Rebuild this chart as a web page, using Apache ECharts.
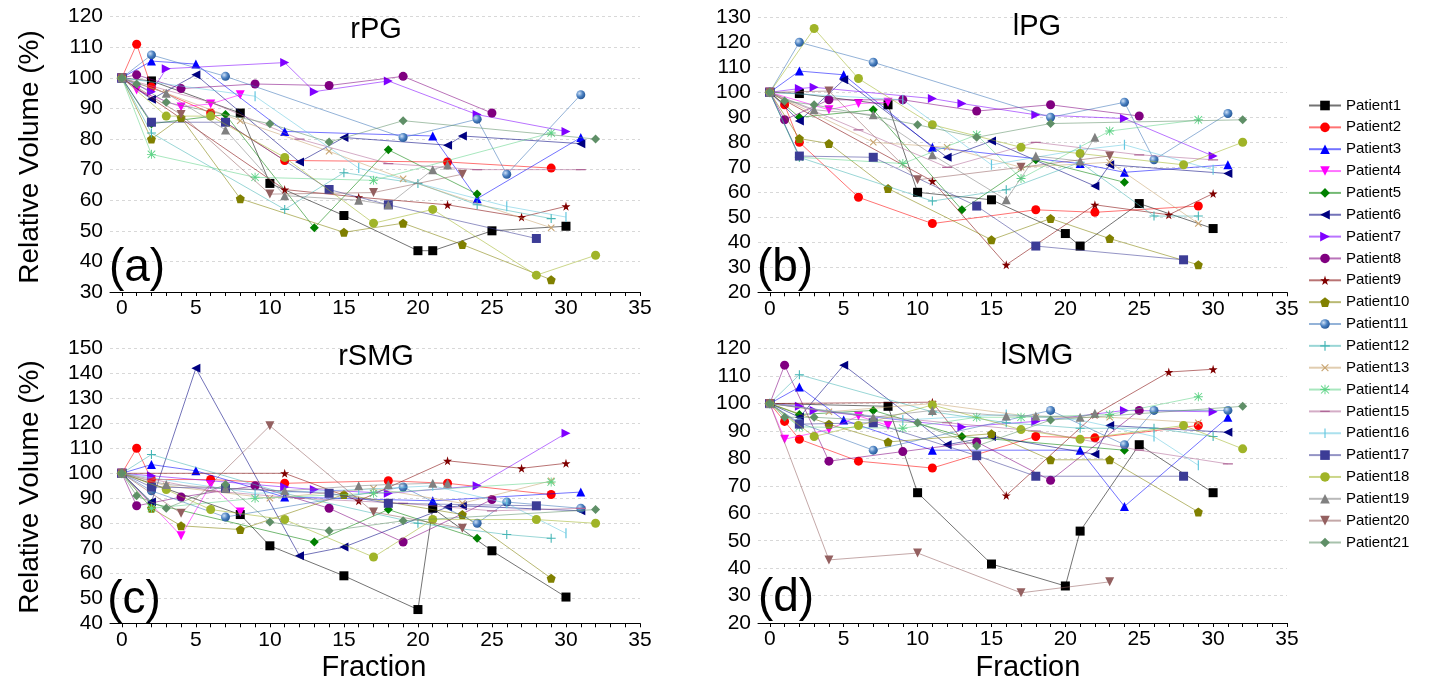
<!DOCTYPE html>
<html>
<head>
<meta charset="utf-8">
<script src="https://cdn.jsdelivr.net/npm/echarts@6/dist/echarts.min.js"></script>
<style>
html,body{margin:0;padding:0;background:#fff}
#main{width:1437px;height:688px}
</style>
</head>
<body>
<div id="main"></div>
<script>
var patients = ['Patient1','Patient2','Patient3','Patient4','Patient5','Patient6','Patient7',
  'Patient8','Patient9','Patient10','Patient11','Patient12','Patient13','Patient14',
  'Patient15','Patient16','Patient17','Patient18','Patient19','Patient20','Patient21'];

var xLabels = [0,5,10,15,20,25,30,35];
var xTicks = [0,1,2,3,4,5,6,7,8,9,10,11,12,13,14,15,16,17,18,19,20,21,22,23,24,25,26,27,28,29,30,31,32,33,34,35];

// [fraction, relative volume %] per patient
var rPG = [
  [[0,100],[2,99],[8,88.5],[10,65.5],[15,55],[20,43.5],[21,43.5],[25,50],[30,51.5]],
  [[0,100],[1,111],[2,97],[6,88.5],[11,73],[22,72.5],[29,70.5]],
  [[0,100],[2,105.5],[5,104.5],[11,82.5],[21,81],[24,60.5],[31,80.5]],
  [[0,100],[1,96],[4,90.5],[6,91.5],[8,94.5]],
  [[0,100],[2,85],[7,88],[13,51],[18,76.5],[24,62]],
  [[0,100],[2,93],[5,101],[12,72.5],[15,80.5],[22,78],[23,81],[31,78.5]],
  [[0,100],[2,95.5],[3,103],[11,105],[13,95.5],[18,99],[24,88],[30,82.5]],
  [[0,100],[1,101],[4,96.5],[9,98],[14,97.5],[19,100.5],[25,88.5]],
  [[0,100],[11,63.5],[16,61],[22,58.5],[27,54.5],[30,58]],
  [[0,100],[2,80],[4,87],[8,60.5],[15,49.5],[19,52.5],[23,45.5],[29,34]],
  [[0,100],[2,107.5],[7,100.5],[19,80.5],[24,86.5],[26,68.5],[31,94.5]],
  [[0,100],[2,82],[11,57],[15,69],[20,65.5],[24,58.5],[29,54]],
  [[0,100],[3,95],[8,86],[14,76],[19,67],[29,51]],
  [[0,100],[2,75],[9,67.5],[17,66.5],[29,82]],
  [[0,100],[6,92],[12,80],[18,72],[24,70],[31,70]],
  [[0,100],[9,94],[16,70.5],[26,58],[30,54.5]],
  [[0,100],[2,85.5],[7,85.5],[14,63.5],[18,58.5],[28,47.5]],
  [[0,100],[3,87.5],[6,87.5],[11,74],[17,52.5],[21,57],[28,35.5],[32,42]],
  [[0,100],[3,95],[7,83],[11,61.5],[16,60],[18,58.5],[21,70],[22,71.5]],
  [[0,100],[4,88],[10,62],[17,62.5],[23,68.5]],
  [[0,100],[1,98],[3,92],[10,85],[14,79],[19,86],[32,80]]
];

var lPG = [
  [[0,100],[2,99.5],[8,95],[10,60],[15,57],[20,43.5],[21,38.5],[25,55.5],[30,45.5]],
  [[0,100],[1,95],[2,80],[6,58],[11,47.5],[18,53],[22,52],[29,54.5]],
  [[0,100],[2,108.5],[5,107],[11,78],[21,71.5],[24,68],[31,71]],
  [[0,100],[4,93],[6,95.5],[8,96]],
  [[0,100],[2,90],[7,93],[13,53],[18,73],[24,64]],
  [[0,100],[2,88.5],[5,105],[12,74],[15,80.5],[22,62.5],[23,71],[31,67.5]],
  [[0,100],[2,101.5],[3,102],[11,97.5],[13,95.5],[18,91],[24,89.5],[30,74.5]],
  [[0,100],[1,89],[4,97],[9,97],[14,92.5],[19,95],[25,90.5]],
  [[0,100],[11,64.5],[16,31],[22,55],[27,51],[30,59.5]],
  [[0,100],[2,81.5],[4,79.5],[8,61.5],[15,41],[19,49.5],[23,41.5],[29,31]],
  [[0,100],[2,120],[7,112],[19,90],[24,96],[26,73],[31,91.5]],
  [[0,100],[2,74],[11,56.5],[16,61],[21,72],[26,50.5],[29,50.5]],
  [[0,100],[7,80],[12,78],[17,70],[23,72],[29,47.5]],
  [[0,100],[2,74],[9,71.5],[14,83],[17,65.5],[23,84.5],[29,89]],
  [[0,100],[6,85],[12,70],[18,80],[25,75],[30,73]],
  [[0,100],[9,97],[15,71],[21,77],[24,79],[30,69]],
  [[0,100],[2,74.5],[7,74],[14,54.5],[18,38.5],[28,33]],
  [[0,100],[3,125.5],[6,105.5],[11,87],[17,78],[21,75.5],[28,71],[32,80]],
  [[0,100],[3,93],[7,91],[11,75],[16,57],[18,74.5],[21,72.5],[22,82]],
  [[0,100],[4,100.5],[10,65],[17,70],[23,74.5]],
  [[0,100],[1,96.5],[3,95],[10,87],[14,82],[19,87.5],[32,89]]
];

var rSMG = [
  [[0,100],[8,83.5],[10,71],[15,59],[20,45.5],[21,86],[25,69],[30,50.5]],
  [[0,100],[1,110],[2,97.5],[6,97.5],[11,96],[18,97],[22,96],[29,91.5]],
  [[0,100],[2,103.5],[5,101],[11,90.5],[21,89],[31,92.5]],
  [[0,100],[4,75],[6,95.5],[8,84.5]],
  [[0,100],[2,88],[13,72.5],[18,85.5],[24,74]],
  [[0,100],[2,88.5],[5,142],[12,67],[15,70.5],[22,86.5],[23,87],[31,85]],
  [[0,100],[2,99],[11,94.5],[13,93.5],[18,92],[24,95],[30,116]],
  [[0,100],[1,87],[4,90.5],[9,95],[14,86],[19,72.5],[25,89.5]],
  [[0,100],[11,100],[16,89],[22,105],[27,102],[30,104]],
  [[0,100],[2,86],[4,79],[8,77.5],[15,91.5],[23,83.5],[29,58]],
  [[0,100],[2,93],[7,82.5],[19,94.5],[24,80],[26,88.5],[31,86]],
  [[0,100],[2,107.5],[11,92],[20,80],[26,75.5],[29,74]],
  [[0,100],[3,95],[10,90],[17,94],[23,88],[29,97]],
  [[0,100],[2,86],[9,90],[17,92],[29,96.5]],
  [[0,100],[6,93],[12,90],[19,88],[25,85],[31,86]],
  [[0,100],[9,92],[16,93.5],[21,95],[26,88],[30,76]],
  [[0,100],[2,94.5],[7,94],[14,92],[18,88],[28,87]],
  [[0,100],[3,93.5],[6,85.5],[11,81.5],[17,66.5],[21,81.5],[28,81.5],[32,80]],
  [[0,100],[3,95.5],[7,94],[11,93],[16,95],[18,95.5],[21,96],[22,96]],
  [[0,100],[4,84],[10,119],[17,84.5],[23,78]],
  [[0,100],[1,91],[3,86],[7,95.5],[10,80.5],[14,77],[19,81],[32,85.5]]
];

var lSMG = [
  [[0,100],[8,99],[10,67.5],[15,41.5],[20,33.5],[21,53.5],[25,85],[30,67.5]],
  [[0,100],[1,93.5],[2,87],[6,79],[11,76.5],[18,88],[22,87.5],[29,92]],
  [[0,100],[2,106],[5,94],[11,83],[21,83],[24,62.5],[31,95]],
  [[0,100],[1,87],[4,90.5],[6,95.5],[8,92]],
  [[0,100],[2,96],[7,97.5],[13,88],[24,83]],
  [[0,100],[2,95],[5,114],[12,85],[15,88],[22,81.5],[23,92],[31,89.5]],
  [[0,100],[2,99],[3,97.5],[13,91.5],[18,93.5],[24,97.5],[30,97]],
  [[0,100],[1,114],[4,79],[9,82.5],[14,86],[19,72],[25,97.5]],
  [[0,100],[11,100.5],[16,66.5],[22,96],[27,111.5],[30,112.5]],
  [[0,100],[4,92.5],[8,86],[15,89],[19,79.5],[23,79.5],[29,60.5]],
  [[0,100],[2,93],[7,83],[19,97.5],[24,85],[26,97.5],[31,97.5]],
  [[0,100],[2,110.5],[11,97],[16,93],[21,91],[26,91],[30,88]],
  [[0,100],[4,97],[11,100],[18,95],[23,95],[29,93]],
  [[0,100],[2,91.5],[9,91],[14,95],[17,95],[23,96],[29,102.5]],
  [[0,100],[6,96],[12,93],[18,90],[25,83],[31,78]],
  [[0,100],[9,94],[16,96],[21,94],[26,88],[29,77.5]],
  [[0,100],[2,92.5],[7,93],[14,81],[18,73.5],[28,73.5]],
  [[0,100],[3,88],[6,92],[11,99.5],[17,90.5],[21,87],[28,92],[32,83.5]],
  [[0,100],[7,95],[11,97.5],[16,95.5],[18,95.5],[21,95],[22,96.5]],
  [[0,100],[4,43],[10,45.5],[17,31],[23,35]],
  [[0,100],[1,95],[3,95],[10,93],[14,84.5],[19,94],[32,99]]
];

var panelData = [rPG, lPG, rSMG, lSMG];
var yRanges = [[30,120],[20,130],[40,150],[20,120]];

// styles
var FONT = 'Liberation Sans, Arial, sans-serif';
var colors = ['#000000','#ff0000','#0000ff','#ff00ff','#008000','#000080','#8000ff','#800080',
  '#800000','#808000','#3d74b8','#45b5b5','#c8a470','#60d488','#b06898','#66c8e0','#3c3c96',
  '#a0b428','#808080','#946060','#5f8f67'];
var STAR = 'path://M50,0 L61,35 L98,35 L68,57 L79,91 L50,70 L21,91 L32,57 L2,35 L39,35 Z';
var PENT = 'path://M50,0 L98,36 L80,95 L20,95 L2,36 Z';
var PLUS = 'path://M44,0H56V44H100V56H56V100H44V56H0V44H44Z';
var ASTER = 'path://M45,0H55V100H45Z M0,45H100V55H0Z M12,5L95,88L88,95L5,12Z M88,5L95,12L12,95L5,88Z';
// tiny corner specks keep the box square so the thin marks are not stretched
var DASH = 'path://M0,0H0.01V0.01H0Z M0,44H100V56H0Z M99.99,99.99H100V100H99.99Z';
var BAR = 'path://M0,0H0.01V0.01H0Z M44,0H56V100H44Z M99.99,99.99H100V100H99.99Z';
var sphere = {type:'radial', x:0.35, y:0.35, r:0.75,
  colorStops:[{offset:0,color:'#cde0f7'},{offset:0.5,color:'#4a80c0'},{offset:1,color:'#1f4f8f'}]};
var marks = [
  {s:'rect'}, {s:'circle'}, {s:'triangle'}, {s:'triangle', r:180},
  {s:'diamond'}, {s:'triangle', r:90}, {s:'triangle', r:-90}, {s:'circle'},
  {s:STAR}, {s:PENT}, {s:'circle'}, {s:PLUS}, {s:PLUS, r:45},
  {s:ASTER}, {s:DASH, size:10}, {s:BAR, size:10}, {s:'rect'}, {s:'circle'},
  {s:'triangle'}, {s:'triangle', r:180}, {s:'diamond'}
];

var grids = [
  {left:110, top:16.7, width:530, height:275.3},
  {left:758, top:17.3, width:529, height:275},
  {left:110, top:348.3, width:530, height:275},
  {left:758, top:348.7, width:529, height:274.3}
];

var xAxes = [], yAxes = [], series = [];
grids.forEach(function (g, gi) {
  xAxes.push({
    type:'value', gridIndex:gi, min:-0.8, max:35,
    axisLine:{show:true, lineStyle:{color:'#000', width:1}},
    axisTick:{show:true, customValues:xTicks, length:4, lineStyle:{color:'#000'}},
    axisLabel:{customValues:xLabels, color:'#000', fontSize:21, fontFamily:FONT, margin:6},
    splitLine:{show:false}
  });
  yAxes.push({
    type:'value', gridIndex:gi, min:yRanges[gi][0], max:yRanges[gi][1], interval:10,
    axisLine:{show:false}, axisTick:{show:false},
    axisLabel:{color:'#000', fontSize:21, fontFamily:FONT, margin:7},
    splitLine:{show:true, lineStyle:{color:'#d8d8d8', type:[3,3], width:1}}
  });
  panelData[gi].forEach(function (pts, i) {
    series.push({
      name: patients[i], type:'line', xAxisIndex:gi, yAxisIndex:gi,
      data: pts, symbol: marks[i].s, symbolSize: marks[i].size || 9, symbolRotate: marks[i].r || 0,
      showAllSymbol:true, z: 2 + i * 0.01,
      itemStyle:{color: i === 10 ? sphere : colors[i]},
      lineStyle:{color: colors[i], width:1, opacity:0.55},
      emphasis:{disabled:true}
    });
  });
});

var graphics = [];
function txt(x, y, s, size, rot) {
  graphics.push({type:'text', x:x, y:y, rotation: rot || 0, z:100,
    style:{text:s, font: size + 'px ' + FONT, fill:'#000', textAlign:'center', textVerticalAlign:'middle'}});
}
txt(30, 157, 'Relative Volume (%)', 28, Math.PI / 2);
txt(30, 487, 'Relative Volume (%)', 28, Math.PI / 2);
txt(374, 668, 'Fraction', 29);
txt(1028, 668, 'Fraction', 29);
txt(376, 30, 'rPG', 29);
txt(1037, 27, 'lPG', 29);
txt(376, 357, 'rSMG', 29);
txt(1037, 356, 'lSMG', 29);
txt(137, 268, '(a)', 46);
txt(785, 268, '(b)', 46);
txt(134, 600, '(c)', 46);
txt(786, 598, '(d)', 46);

var myChart = echarts.init(document.getElementById('main'));
myChart.setOption({
  animation:false,
  backgroundColor:'#fff',
  grid: grids,
  xAxis: xAxes,
  yAxis: yAxes,
  legend: {
    orient:'vertical', left:1303, top:93, itemWidth:32, itemHeight:12, itemGap:6.85,
    data: patients,
    textStyle:{fontSize:15, fontFamily:FONT, color:'#000'}
  },
  graphic: graphics,
  series: series
});
</script>
</body>
</html>
